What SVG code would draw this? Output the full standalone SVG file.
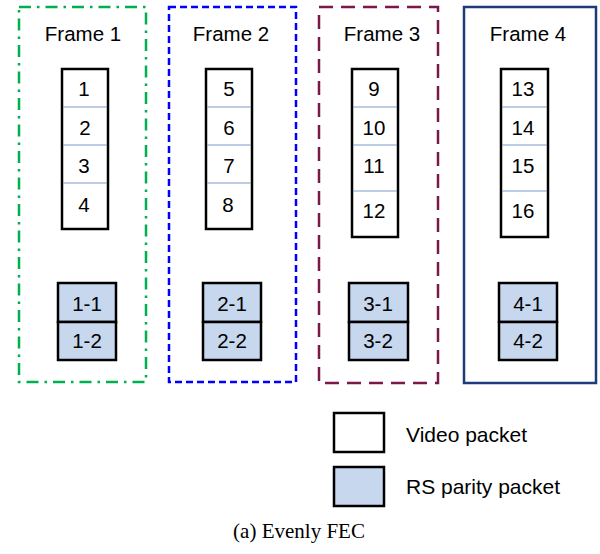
<svg xmlns="http://www.w3.org/2000/svg" width="600" height="554" viewBox="0 0 600 554">
<style>
.frame{fill:none;stroke-width:2.5}
.pkt{fill:#fff;stroke:#000;stroke-width:2.5}
.par{fill:#C6D7EE;stroke:#000;stroke-width:2.5}
.div{stroke:#7B9BCB;stroke-width:1.2}
.t{font-family:"Liberation Sans",Arial,sans-serif;font-size:20.5px;fill:#000;text-anchor:middle}
.lg{font-family:"Liberation Sans",Arial,sans-serif;font-size:21px;fill:#000}
.cap{font-family:"Liberation Serif","Times New Roman",serif;font-size:21px;fill:#000;text-anchor:middle}
</style>
<rect width="600" height="554" fill="#fff"/>
<g id="frame1">
<rect class="frame" x="19" y="7" width="127" height="375" stroke="#00B050" stroke-dasharray="12,6,2.5,6"/>
<text class="t" x="83" y="41">Frame 1</text>
<rect class="pkt" x="62" y="69" width="46" height="160"/>
<line class="div" x1="63" y1="107" x2="107" y2="107"/><line class="div" x1="63" y1="145" x2="107" y2="145"/><line class="div" x1="63" y1="183" x2="107" y2="183"/>
<text class="t" x="84" y="96">1</text><text class="t" x="85" y="135">2</text><text class="t" x="84" y="173">3</text><text class="t" x="84" y="212">4</text>
<rect class="par" x="58" y="283" width="58" height="39"/><rect class="par" x="58" y="322" width="58" height="38"/>
<text class="t" x="87" y="311">1-1</text><text class="t" x="87" y="348">1-2</text>
</g>
<g id="frame2">
<rect class="frame" x="169" y="7" width="127" height="375" stroke="#0000FF" stroke-dasharray="7,4"/>
<text class="t" x="231" y="41">Frame 2</text>
<rect class="pkt" x="206" y="69" width="46" height="160"/>
<line class="div" x1="207" y1="107" x2="251" y2="107"/><line class="div" x1="207" y1="145" x2="251" y2="145"/><line class="div" x1="207" y1="183" x2="251" y2="183"/>
<text class="t" x="229" y="96">5</text><text class="t" x="229" y="135">6</text><text class="t" x="229" y="173">7</text><text class="t" x="228" y="212">8</text>
<rect class="par" x="203" y="283" width="58" height="39"/><rect class="par" x="203" y="322" width="58" height="38"/>
<text class="t" x="232" y="311">2-1</text><text class="t" x="232" y="348">2-2</text>
</g>
<g id="frame3">
<rect class="frame" x="319" y="7" width="119" height="376" stroke="#7A1848" stroke-dasharray="14,8"/>
<text class="t" x="382" y="41">Frame 3</text>
<rect class="pkt" x="352" y="69" width="46" height="168"/>
<line class="div" x1="353" y1="107" x2="397" y2="107"/><line class="div" x1="353" y1="145" x2="397" y2="145"/><line class="div" x1="353" y1="191" x2="397" y2="191"/>
<text class="t" x="374" y="96">9</text><text class="t" x="374" y="135">10</text><text class="t" x="374" y="173">11</text><text class="t" x="374" y="218">12</text>
<rect class="par" x="349" y="283" width="59" height="39"/><rect class="par" x="349" y="322" width="59" height="38"/>
<text class="t" x="378" y="311">3-1</text><text class="t" x="378" y="348">3-2</text>
</g>
<g id="frame4">
<rect class="frame" x="464" y="7" width="132" height="376" stroke="#1F3A7A"/>
<text class="t" x="528" y="41">Frame 4</text>
<rect class="pkt" x="501" y="69" width="47" height="168"/>
<line class="div" x1="502" y1="107" x2="547" y2="107"/><line class="div" x1="502" y1="145" x2="547" y2="145"/><line class="div" x1="502" y1="191" x2="547" y2="191"/>
<text class="t" x="523" y="96">13</text><text class="t" x="523" y="135">14</text><text class="t" x="523" y="173">15</text><text class="t" x="523" y="218">16</text>
<rect class="par" x="499" y="283" width="58" height="39"/><rect class="par" x="499" y="322" width="58" height="38"/>
<text class="t" x="528" y="311">4-1</text><text class="t" x="528" y="348">4-2</text>
</g>
<g id="legend">
<rect class="pkt" x="334" y="413" width="50" height="39"/>
<text class="lg" x="406" y="442">Video packet</text>
<rect class="par" x="334" y="467" width="50" height="39"/>
<text class="lg" x="406" y="494">RS parity packet</text>
</g>
<g id="connectors"/>
<text class="cap" x="299" y="538">(a) Evenly FEC</text>
</svg>
